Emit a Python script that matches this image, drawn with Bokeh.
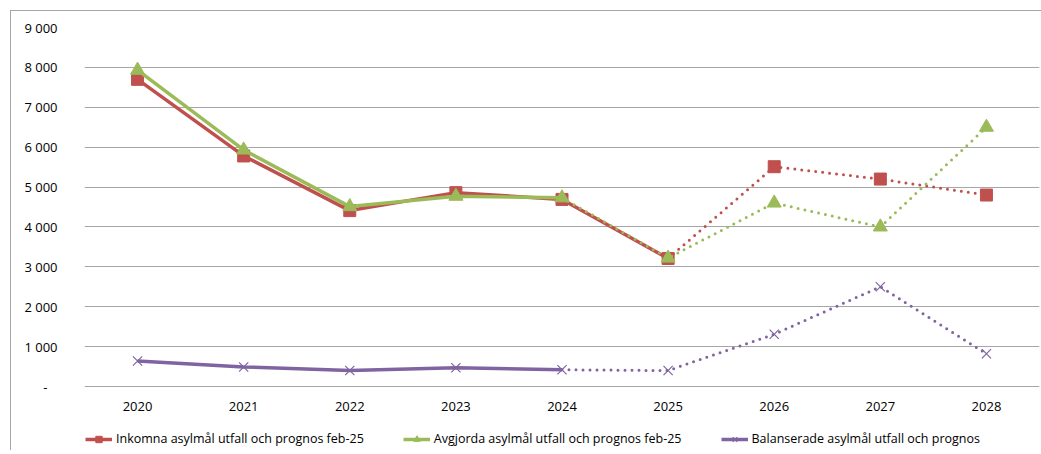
from bokeh.plotting import figure
from bokeh.models import Range1d, FixedTicker, Legend, LegendItem
from bokeh.core.properties import value
from bokeh.embed import file_html
from bokeh.resources import INLINE

years = ["2020", "2021", "2022", "2023", "2024", "2025", "2026", "2027", "2028"]
inkomna = [7700, 5780, 4410, 4860, 4690, 3210, 5510, 5200, 4800]
avgjorda = [7930, 5930, 4510, 4770, 4730, 3220, 4600, 4000, 6500]
balanserade = [640, 490, 400, 470, 420, 400, 1310, 2500, 820]
y_ticks = [0, 1000, 2000, 3000, 4000, 5000, 6000, 7000, 8000, 9000]
names = [
    "Inkomna asylmål utfall och prognos feb-25",
    "Avgjorda asylmål utfall och prognos feb-25",
    "Balanserade asylmål utfall och prognos",
]
# last index of the solid (outcome) part of each series
solid_end = [5, 4, 4]

FONT = "Open Sans"
colors = ["#C0504D", "#9BBB59", "#8064A2"]

# layout: the value area is 359 px tall; 64 px more below it hold year labels + legend
VAL_H = 359
EXTRA_H = 64
y_max = y_ticks[-1]
y_min = -y_max * EXTRA_H / VAL_H

p = figure(
    x_range=years,
    y_range=Range1d(y_min, y_max),
    frame_width=955,
    frame_height=VAL_H + EXTRA_H,
    min_border_left=73,
    min_border_right=2,
    min_border_top=16,
    min_border_bottom=0,
    output_backend="svg",
    toolbar_location=None,
)
p.styles = {"border-left": "1px solid #a6a6a6", "border-top": "1px solid #a6a6a6",
            "margin-left": "10px", "margin-top": "10px"}
p.outline_line_color = None

p.xgrid.grid_line_color = None
p.ygrid.grid_line_color = "#a6a6a6"
p.ygrid.ticker = FixedTicker(ticks=y_ticks)
p.yaxis.ticker = FixedTicker(ticks=y_ticks)
labels = {}
for t in y_ticks:
    labels[t] = "-\u00a0\u00a0\u00a0" if t == 0 else f"{t:,}".replace(",", " ")
p.yaxis.major_label_overrides = labels
ax = p.yaxis[0]
ax.axis_line_color = None
ax.major_tick_line_color = None
ax.minor_tick_line_color = None
ax.major_tick_out = 0
ax.major_tick_in = 0
ax.minor_tick_out = 0
ax.major_label_text_font = FONT
ax.major_label_text_font_size = "13px"
ax.major_label_text_color = "#000000"
ax.major_label_standoff = 27
p.xaxis.visible = False

# category labels under the zero line, placed by the categorical scale
p.text(x=years, y=[y_ticks[0]] * len(years), text=years, y_offset=20,
       text_align="center", text_baseline="middle",
       text_font=value(FONT), text_font_size="13px", text_color="#000000")

series = [inkomna, avgjorda, balanserade]
items = []
for i, vals in enumerate(series):
    c = colors[i]
    e = solid_end[i]
    solid = p.line(years[: e + 1], vals[: e + 1], line_color=c, line_width=3.5)
    p.line(years[e:], vals[e:], line_color=c, line_width=3,
           line_dash="0 7", line_cap="round")
    if i == 0:
        m = p.scatter(years, vals, marker="square", size=12, fill_color=c, line_color=c)
    elif i == 1:
        m = p.scatter(years, vals, marker="triangle", size=14, fill_color=c, line_color=c)
    else:
        m = p.scatter(years, vals, marker="x", size=13, line_color=c, line_width=1.2)
    items.append(LegendItem(label=names[i], renderers=[solid, m]))

legend = Legend(
    items=items,
    orientation="horizontal",
    location=(1, 3),
    label_text_font=FONT,
    label_text_font_size="12.5px",
    label_text_color="#000000",
    glyph_width=27,
    glyph_height=16,
    label_standoff=4,
    spacing=39,
    padding=2,
    margin=0,
    border_line_color=None,
    background_fill_alpha=0,
)
p.add_layout(legend, "center")

open("out.html", "w").write(file_html(p, INLINE))
